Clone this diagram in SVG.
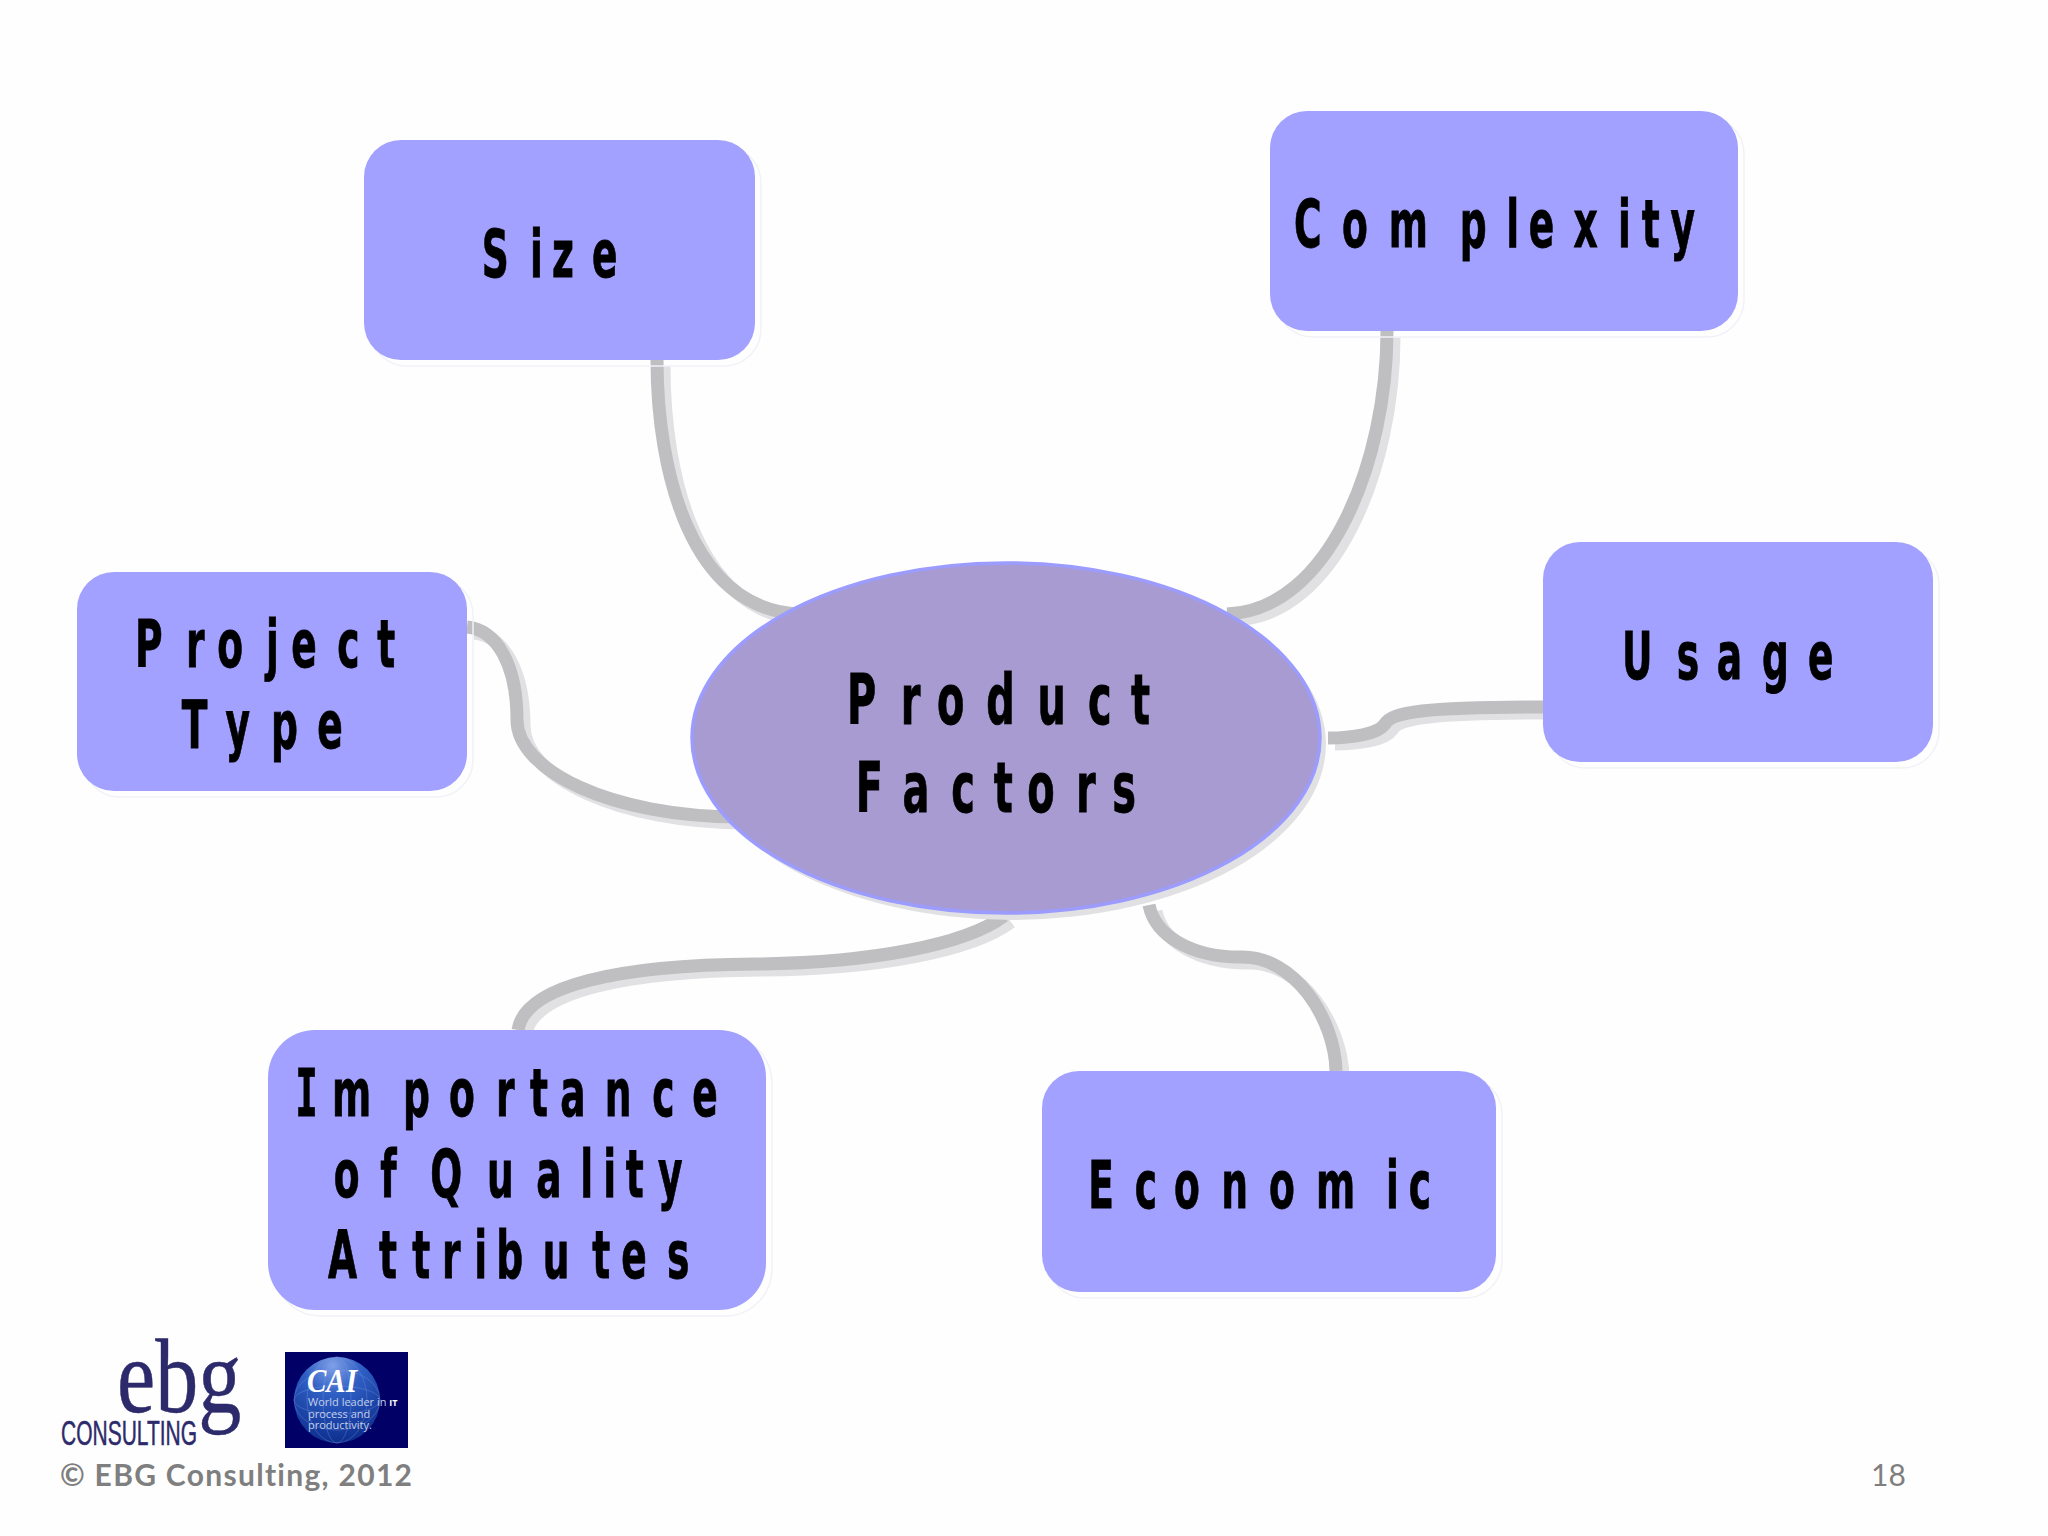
<svg xmlns="http://www.w3.org/2000/svg" width="2048" height="1536" viewBox="0 0 2048 1536">
<style>
.box{fill:#a2a1ff}
.boxshadow{fill:none;stroke:#f1f2f8;stroke-width:1.5}
.lbl{font-family:"DejaVu Sans",Verdana,sans-serif;font-weight:bold;font-size:66px;fill:#000;stroke:#000;stroke-width:.9}
.big{font-size:70px}
.i{font-family:"DejaVu Sans Mono",monospace}
.conn{fill:none;stroke:#bfbfc2;stroke-width:13}
.connshadow{fill:none;stroke:#e1e1e4;stroke-width:13}
.logo{fill:#2d2a6b;stroke:#2d2a6b;stroke-width:.5}
.grey{fill:#7f7f7f;font-family:Lato,"Open Sans",sans-serif;font-variant-ligatures:none}
.cai{font-family:"Open Sans","Liberation Sans",sans-serif;fill:#c3d0ea;font-size:11px}
.mesh{fill:none;stroke:#7fa0e0;stroke-width:.7;opacity:.45}
</style>
<defs>
<radialGradient id="globe" cx=".45" cy=".1" r=".95">
<stop offset="0" stop-color="#7f9fe8"/>
<stop offset=".35" stop-color="#2f5fc4"/>
<stop offset="1" stop-color="#0a2a8a"/>
</radialGradient>
<path id="p-size" d="M657 360C657 470 690 610 800 614"/>
<path id="p-complexity" d="M1387 331C1387 460 1330 610 1227 614"/>
<path id="p-usage" d="M1328 738C1352 738 1378 734 1385 724C1391 712 1425 707 1543 707"/>
<path id="p-project" d="M467 627C497 630 517 665 517 720C517 770 610 817 740 817"/>
<path id="p-importance" d="M518 1030C525 985 620 965 755 964C870 963 965 945 1004 916"/>
<path id="p-economic" d="M1149 905C1155 935 1190 957 1240 957C1295 955 1335 1020 1336 1071"/>
</defs>
<rect width="2048" height="1536" fill="#fefefe"/>
<g id="connectors">
<g class="connshadow" transform="translate(7 6)">
<use href="#p-size"/><use href="#p-complexity"/><use href="#p-usage"/><use href="#p-project"/><use href="#p-importance"/><use href="#p-economic"/>
</g>
<g class="conn">
<use href="#p-size"/><use href="#p-complexity"/><use href="#p-usage"/><use href="#p-project"/><use href="#p-importance"/><use href="#p-economic"/>
</g>
</g>
<g id="node-size">
<rect class="boxshadow" x="370" y="146" width="391" height="220" rx="37"/>
<rect class="box" x="364" y="140" width="391" height="220" rx="37"/>
<text class="lbl" transform="matrix(.57 0 0 1 481.7 277)" x="0 84.7 123.3 193.5" y="0">Size</text>
</g>
<g id="node-complexity">
<rect class="boxshadow" x="1276" y="117" width="468" height="220" rx="37"/>
<rect class="box" x="1270" y="111" width="468" height="220" rx="37"/>
<text class="lbl" transform="matrix(.57 0 0 1 1294 247)" x="0 84.2 166.1 290.7 372.5 411.8 490.5 568.4 610 660.7" y="0">Complexity</text>
</g>
<g id="node-usage">
<rect class="boxshadow" x="1549" y="548" width="390" height="220" rx="37"/>
<rect class="box" x="1543" y="542" width="390" height="220" rx="37"/>
<text class="lbl" transform="matrix(.57 0 0 1 1622 679)" x="0 96 166.3 245.6 326.3" y="0">Usage</text>
</g>
<g id="node-project-type">
<rect class="boxshadow" x="83" y="578" width="390" height="219" rx="37"/>
<rect class="box" x="77" y="572" width="390" height="219" rx="37"/>
<text class="lbl" transform="matrix(.57 0 0 1 134.9 667)" x="0 89.6 144.6 230 274.4 355.1 425.3" y="0">Project</text>
<text class="lbl" transform="matrix(.57 0 0 1 181.7 748.3)" x="0 77 156.7 237.9" y="0">Type</text>
</g>
<g id="node-importance">
<rect class="boxshadow" x="274" y="1036" width="498" height="280" rx="47"/>
<rect class="box" x="268" y="1030" width="498" height="280" rx="47"/>
<text class="lbl" transform="matrix(.57 0 0 1 295.3 1115.7)" x="0 64.4 188.9 269.6 352.1 411.8 464.7 542.8 626.3 696.5" y="0"><tspan class="i">I</tspan>mportance</text>
<text class="lbl" transform="matrix(.57 0 0 1 333.7 1196.7)" x="0 81.6 158 169.5 268.9 355.3 432.6 473 512.3 568.8" y="0">of Quality</text>
<text class="lbl" transform="matrix(.57 0 0 1 327.9 1277.7)" x="0 89.6 148.1 200.2 256.8 295.4 376.8 463.9 514.7 594.9" y="0">Attributes</text>
</g>
<g id="node-economic">
<rect class="boxshadow" x="1048" y="1077" width="454" height="221" rx="37"/>
<rect class="box" x="1042" y="1071" width="454" height="221" rx="37"/>
<text class="lbl" transform="matrix(.57 0 0 1 1088.3 1208)" x="0 81.4 150.4 233.3 317 399.5 522.3 562.1" y="0">Economic</text>
</g>
<g id="node-product-factors">
<ellipse cx="1012" cy="744" rx="314" ry="176" fill="#e1e1e4"/>
<ellipse cx="1006" cy="738" rx="314" ry="175" fill="#a79bd1" stroke="#9c9cff" stroke-width="3.5"/>
<text class="lbl big" transform="matrix(.57 0 0 1 847.1 724)" x="0 94.2 157.7 244.2 334 422.6 498.2" y="0">Product</text>
<text class="lbl big" transform="matrix(.57 0 0 1 855.7 812.3)" x="0 81.9 167.7 242.3 301.1 386.7 450.2" y="0">Factors</text>
</g>
<g id="logo-ebg">
<text class="logo" transform="matrix(.82 0 0 1 117 1412)" x="0" y="0" font-family="Liberation Serif,serif" font-size="105">ebg</text>
<text class="logo" transform="matrix(.6 0 0 1 61 1445)" x="0" y="0" font-family="Liberation Sans,sans-serif" font-size="35">CONSULTING</text>
</g>
<g id="logo-cai">
<rect x="285" y="1352" width="123" height="96" fill="#000066"/>
<circle cx="337" cy="1400" r="43" fill="url(#globe)"/>
<ellipse class="mesh" cx="337" cy="1400" rx="14" ry="43"/>
<ellipse class="mesh" cx="337" cy="1400" rx="30" ry="43"/>
<ellipse class="mesh" cx="337" cy="1400" rx="43" ry="14"/>
<ellipse class="mesh" cx="337" cy="1400" rx="43" ry="30"/>
<text x="307" y="1392" font-family="Liberation Serif,serif" font-style="italic" font-weight="bold" font-size="33" fill="#fff" textLength="50" lengthAdjust="spacingAndGlyphs">CAI</text>
<text class="cai" x="308" y="1406">World leader in <tspan font-weight="bold" fill="#fff" font-size="9">IT</tspan></text>
<text class="cai" x="308" y="1418">process and</text>
<text class="cai" x="308" y="1429">productivity.</text>
</g>
<g id="footer">
<text class="grey" x="60" y="1486" font-size="30" font-weight="bold" textLength="352">© EBG Consulting, 2012</text>
<text class="grey" x="1871" y="1486" font-size="30">18</text>
</g>
</svg>
